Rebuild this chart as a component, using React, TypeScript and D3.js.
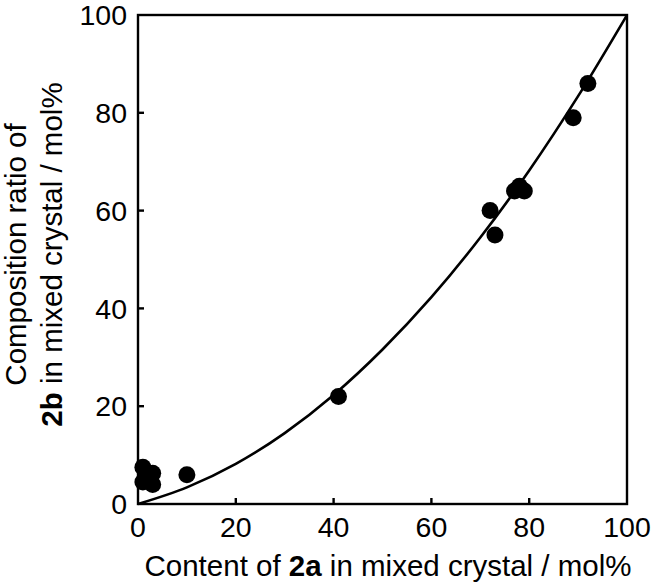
import React from "react";
import * as d3 from "d3";

const pointX = [1, 1, 3, 3, 10, 41, 72, 73, 77, 78, 79, 89, 92];
const pointY = [7.5, 4.5, 6.3, 4, 6, 22, 60, 55, 64, 65, 64, 79, 86];

const curveX = [0, 10, 20, 30, 40, 50, 60, 70, 80, 90, 100];
const curveY = [0, 3.4, 8.2, 14.5, 22.3, 31.6, 42.3, 54.5, 68.2, 83.4, 100];

const xTicks = [0, 20, 40, 60, 80, 100];
const yTicks = [0, 20, 40, 60, 80, 100];

const W = 654;
const H = 585;
const M = { left: 138, right: 627, top: 15, bottom: 504 };
const FONT = "'Liberation Sans', Arial, Helvetica, sans-serif";

export default function App() {
  const x = d3.scaleLinear().domain([0, 100]).range([M.left, M.right]);
  const y = d3.scaleLinear().domain([0, 100]).range([M.bottom, M.top]);
  const line = d3
    .line<number>()
    .x((_, i) => x(curveX[i]))
    .y((d) => y(d))
    .curve(d3.curveMonotoneX);
  const tickLen = 6;
  return (
    <svg
      width={W}
      height={H}
      style={{ position: "absolute", left: 0, top: 0, background: "#fff" }}
      fontFamily={FONT}
    >
      <rect x={0} y={0} width={W} height={H} fill="#fff" />
      <path d={line(curveY) || ""} fill="none" stroke="#000" strokeWidth={2.6} />
      {pointX.map((px, i) => (
        <circle key={i} cx={x(px)} cy={y(pointY[i])} r={8.5} fill="#000" />
      ))}
      <rect
        x={M.left}
        y={M.top}
        width={M.right - M.left}
        height={M.bottom - M.top}
        fill="none"
        stroke="#000"
        strokeWidth={2.4}
      />
      {xTicks.slice(1, -1).map((t) => (
        <line key={"xt" + t} x1={x(t)} x2={x(t)} y1={M.bottom} y2={M.bottom - tickLen} stroke="#000" strokeWidth={2.4} />
      ))}
      {yTicks.slice(1, -1).map((t) => (
        <line key={"yt" + t} x1={M.left} x2={M.left + tickLen} y1={y(t)} y2={y(t)} stroke="#000" strokeWidth={2.4} />
      ))}
      {xTicks.map((t) => (
        <text key={"xl" + t} x={x(t)} y={537} textAnchor="middle" fontSize={28.5} fill="#000">
          {t}
        </text>
      ))}
      {yTicks.map((t) => (
        <text key={"yl" + t} x={127} y={y(t)} dy="0.36em" textAnchor="end" fontSize={28.5} fill="#000">
          {t}
        </text>
      ))}
      <text x={388} y={576} textAnchor="middle" fontSize={29.5} fill="#000">
        Content of <tspan fontWeight="bold">2a</tspan> in mixed crystal / mol%
      </text>
      <g transform={`translate(0, ${(M.top + M.bottom) / 2 - 5}) rotate(-90)`}>
        <text x={0} y={26} textAnchor="middle" fontSize={29.5} fill="#000">
          Composition ratio of
        </text>
        <text x={0} y={62} textAnchor="middle" fontSize={29.5} fill="#000">
          <tspan fontWeight="bold">2b</tspan> in mixed crystal / mol%
        </text>
      </g>
    </svg>
  );
}
